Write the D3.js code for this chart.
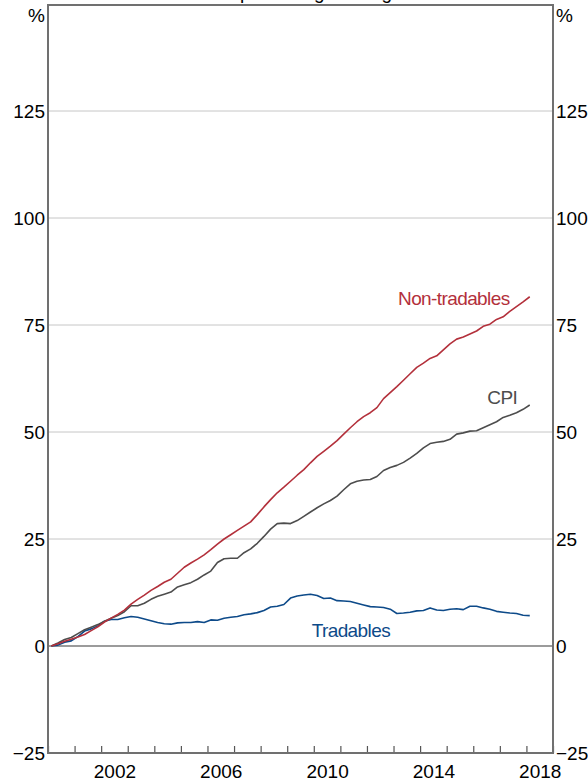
<!DOCTYPE html>
<html><head><meta charset="utf-8">
<script src="https://cdn.jsdelivr.net/npm/d3@7"></script>
<style>
body{margin:0;background:#fff}
svg{display:block}
text{font-family:"Liberation Sans",Arial,Helvetica,sans-serif}
</style>
</head><body>
<svg id="chart" width="588" height="783"></svg>
<script>
// ---- data (cumulative % change, quarterly, 2000 Q1 .. 2018 Q1) ----
const startYear = 2000;
const yTicks = [-25, 0, 25, 50, 75, 100, 125];
const gridValues = [25, 50, 75, 100, 125];
const xLabelYears = [2002, 2006, 2010, 2014, 2018];
const seriesNames = ["Non-tradables", "CPI", "Tradables"];

const nonTradables = [0,0.5,1.1,1.6,2.1,2.7,3.6,4.5,5.6,6.5,7.4,8.4,9.8,10.9,11.9,13.0,13.9,14.9,15.6,17.0,
  18.4,19.4,20.3,21.3,22.5,23.8,25.0,26.0,27.0,28.0,29.0,30.7,32.5,34.2,35.8,37.1,38.5,39.9,41.2,42.8,
  44.3,45.5,46.7,48.0,49.5,51.0,52.4,53.6,54.5,55.7,57.8,59.2,60.6,62.1,63.6,65.1,66.1,67.2,67.8,69.2,
  70.6,71.7,72.2,72.9,73.6,74.7,75.2,76.3,76.9,78.2,79.3,80.4,81.6];
const cpi = [0,0.7,1.5,2.0,2.9,3.8,4.4,5.0,5.8,6.5,7.1,8.0,9.4,9.4,10.0,10.9,11.6,12.1,12.6,13.8,
  14.3,14.8,15.6,16.6,17.5,19.5,20.4,20.5,20.5,21.8,22.7,24.0,25.6,27.3,28.6,28.7,28.6,29.3,30.3,31.3,
  32.3,33.2,34.0,35.0,36.5,37.9,38.5,38.8,38.9,39.6,41.0,41.7,42.2,42.9,43.9,45.0,46.3,47.3,47.6,47.8,
  48.3,49.5,49.8,50.2,50.3,51.0,51.7,52.4,53.4,53.9,54.5,55.3,56.3];
const tradables = [0,0.2,0.9,1.2,2.2,3.5,4.0,4.7,5.8,6.2,6.2,6.6,6.9,6.7,6.3,5.9,5.5,5.2,5.1,5.4,
  5.5,5.5,5.7,5.5,6.1,6.0,6.5,6.7,6.9,7.3,7.5,7.8,8.3,9.1,9.3,9.7,11.2,11.7,11.9,12.1,
  11.8,11.1,11.2,10.6,10.5,10.4,10.0,9.6,9.2,9.1,9.0,8.6,7.6,7.7,7.9,8.2,8.3,8.9,8.4,8.3,
  8.6,8.7,8.5,9.3,9.3,8.9,8.6,8.1,7.9,7.7,7.6,7.2,7.1];

// ---- layout ----
const W = 588, H = 783;
const L = 48, R = 553, T = 4, B = 753;
const colors = {"Non-tradables":"#b3303b", "CPI":"#4d4d4d", "Tradables":"#0d4a89"};
const fontSize = 19;

const svg = d3.select("#chart");
const x = d3.scaleLinear().domain([2000, 2019]).range([L, R]);
const y = d3.scaleLinear().domain([-25, 150]).range([B, T]);

const qx = i => startYear + 0.125 + i / 4;

// title (cut off at top)
const title = svg.append("text").attr("y", -1).attr("font-size", fontSize).attr("fill", "#000");
title.append("tspan").attr("class","pre").text("Cumulative ");
title.append("tspan").text("percentage change since 1999");
const preW = title.select(".pre").node().getComputedTextLength();
title.attr("x", 240 - preW);

// gridlines
svg.append("g").selectAll("line").data(gridValues).join("line")
  .attr("x1", L).attr("x2", R)
  .attr("y1", d => y(d)).attr("y2", d => y(d))
  .attr("stroke", "#c6c6c6").attr("stroke-width", 1);

// zero line
svg.append("line").attr("x1", L).attr("x2", R).attr("y1", y(0)).attr("y2", y(0))
  .attr("stroke", "#7a7a7a").attr("stroke-width", 1.5);

// lines
const line = d3.line().x((d, i) => x(qx(i))).y(d => y(d));
const seriesData = {"Non-tradables": nonTradables, "CPI": cpi, "Tradables": tradables};
["Tradables", "CPI", "Non-tradables"].forEach(name => {
  svg.append("path").datum(seriesData[name])
    .attr("d", line).attr("fill", "none")
    .attr("stroke", colors[name]).attr("stroke-width", 1.6)
    .attr("stroke-linejoin", "round");
});

// x-axis ticks (year boundaries, pointing up)
const xTickAxis = d3.axisBottom(x).tickValues(d3.range(2000, 2020)).tickSize(-7).tickFormat("");
const gxt = svg.append("g").attr("transform", `translate(0,${B})`).call(xTickAxis);
gxt.select(".domain").remove();
gxt.selectAll("line").attr("stroke", "#555").attr("stroke-width", 1.2);

// x labels centred in year
const xLabAxis = d3.axisBottom(x).tickValues(xLabelYears.map(v => v + 0.5)).tickSize(0).tickPadding(12)
  .tickFormat(d => String(Math.floor(d)));
const gxl = svg.append("g").attr("transform", `translate(0,${B})`).call(xLabAxis);
gxl.select(".domain").remove();
gxl.selectAll("text").attr("font-size", fontSize).attr("fill", "#000").attr("font-family", null);

// y labels
const yl = d3.axisLeft(y).tickValues(yTicks).tickSize(0).tickPadding(3).tickFormat(d3.format("d"));
const gyl = svg.append("g").attr("transform", `translate(${L},0)`).call(yl);
gyl.select(".domain").remove();
gyl.selectAll("text").attr("font-size", fontSize).attr("fill", "#000").attr("font-family", null);

const yr = d3.axisRight(y).tickValues(yTicks).tickSize(0).tickPadding(3).tickFormat(d3.format("d"));
const gyr = svg.append("g").attr("transform", `translate(${R},0)`).call(yr);
gyr.select(".domain").remove();
gyr.selectAll("text").attr("font-size", fontSize).attr("fill", "#000").attr("font-family", null);

// % units
svg.append("text").attr("x", L - 3).attr("y", 22).attr("text-anchor", "end")
  .attr("font-size", fontSize).text("%");
svg.append("text").attr("x", R + 3).attr("y", 22).attr("text-anchor", "start")
  .attr("font-size", fontSize).text("%");

// frame
svg.append("rect").attr("x", L).attr("y", T + 1).attr("width", R - L).attr("height", B - T - 1)
  .attr("fill", "none").attr("stroke", "#707070").attr("stroke-width", 2);

// series labels
const labelPos = {"Non-tradables": [2013.17, 79.7], "CPI": [2016.53, 56.5], "Tradables": [2009.92, 2.2]};
seriesNames.forEach(name => {
  svg.append("text").attr("x", x(labelPos[name][0])).attr("y", y(labelPos[name][1]))
    .attr("font-size", fontSize).attr("letter-spacing", "-0.6px")
    .attr("fill", colors[name]).text(name);
});
</script>
</body></html>
